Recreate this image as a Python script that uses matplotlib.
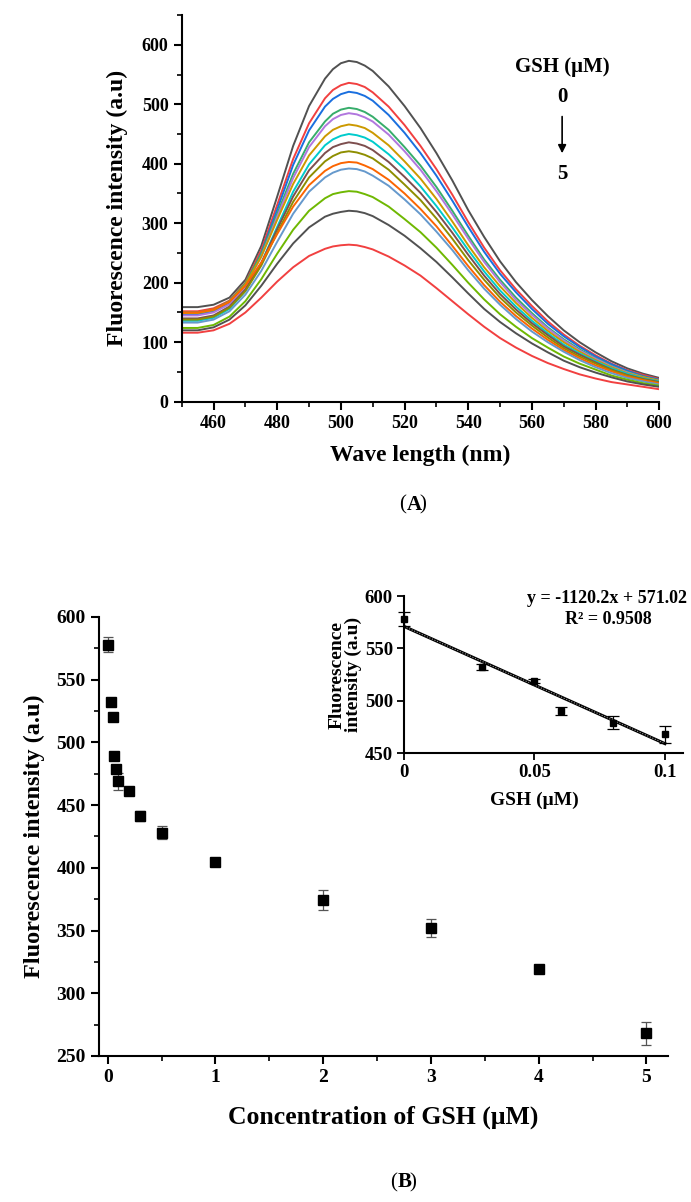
import matplotlib
matplotlib.use("Agg")
import matplotlib.pyplot as plt
from matplotlib.ticker import MultipleLocator

plt.rcParams['font.family'] = ['Liberation Serif', 'DejaVu Serif']
plt.rcParams['font.weight'] = 'bold'
plt.rcParams['axes.linewidth'] = 1.5

# emission spectra (finer sampling around the maximum)
wavelength = [450, 455, 460, 465, 470, 475, 480, 485, 490, 495, 497.5, 500, 502.5,
              505, 507.5, 510, 515, 520, 525, 530, 535, 540, 545, 550, 555, 560,
              565, 570, 575, 580, 585, 590, 595, 600]

spec_0 = [159, 159, 163, 175, 205, 262, 345, 430, 497, 543, 559, 569, 573,
          571, 565, 556, 530, 497, 460, 418, 372, 322, 277, 236, 201, 171, 144, 120, 100, 83, 68, 56, 47, 40]
spec_1 = [152, 152, 157, 170, 200, 255, 331, 408, 468, 510, 524, 532, 536,
          534, 529, 520, 496, 465, 430, 391, 348, 302, 259, 221, 189, 161, 135, 113, 94, 78, 64, 53, 45, 38]
spec_2 = [147, 147, 152, 165, 196, 250, 323, 398, 456, 496, 509, 517, 521,
          519, 514, 506, 482, 452, 418, 380, 338, 294, 252, 215, 184, 156, 131, 110, 92, 76, 63, 52, 43, 37]
spec_3 = [150, 150, 155, 169, 199, 249, 316, 383, 436, 471, 484, 491, 494,
          492, 487, 479, 457, 428, 397, 361, 321, 279, 239, 205, 175, 149, 125, 105, 88, 73, 60, 50, 42, 36]
spec_4 = [145, 145, 150, 164, 194, 244, 311, 376, 428, 463, 475, 482, 485,
          483, 478, 471, 449, 421, 390, 354, 315, 274, 235, 201, 171, 146, 123, 103, 86, 72, 59, 49, 41, 35]
spec_5 = [149, 149, 154, 168, 197, 244, 306, 366, 414, 446, 457, 463, 466,
          464, 460, 452, 431, 404, 375, 341, 303, 263, 226, 194, 166, 141, 119, 100, 84, 70, 58, 48, 41, 35]
spec_6 = [136, 136, 141, 156, 186, 233, 294, 353, 399, 431, 441, 447, 450,
          448, 444, 437, 416, 391, 362, 329, 293, 255, 219, 187, 160, 136, 115, 96, 81, 68, 56, 47, 39, 34]
spec_7 = [140, 140, 145, 160, 189, 233, 290, 345, 389, 418, 428, 433, 436,
          434, 430, 423, 403, 378, 351, 319, 284, 247, 212, 181, 155, 132, 112, 93, 79, 66, 54, 45, 38, 33]
spec_8 = [138, 138, 143, 158, 186, 229, 284, 336, 377, 404, 413, 419, 421,
          419, 415, 409, 390, 365, 339, 308, 274, 238, 205, 175, 150, 128, 108, 90, 76, 64, 53, 44, 37, 32]
spec_9 = [150, 150, 155, 168, 195, 234, 282, 328, 364, 388, 396, 401, 403,
          402, 397, 391, 373, 350, 324, 295, 262, 228, 196, 168, 144, 123, 104, 87, 73, 61, 51, 42, 36, 31]
spec_10 = [133, 133, 138, 152, 180, 220, 269, 316, 353, 377, 385, 390, 392,
           391, 387, 380, 363, 340, 315, 286, 255, 221, 190, 163, 139, 118, 100, 84, 70, 58, 48, 40, 34, 29]
spec_11 = [124, 124, 129, 143, 169, 206, 249, 289, 321, 342, 349, 352, 354,
           353, 349, 344, 328, 307, 285, 259, 230, 200, 172, 147, 126, 107, 91, 76, 64, 54, 44, 37, 31, 27]
spec_12 = [120, 120, 125, 138, 162, 195, 232, 266, 293, 311, 316, 319, 321,
           320, 317, 312, 297, 279, 258, 235, 209, 182, 156, 134, 115, 98, 83, 69, 58, 49, 41, 34, 29, 25]
spec_13 = [116, 116, 120, 131, 150, 175, 202, 226, 245, 257, 261, 263, 264,
           263, 260, 256, 244, 229, 212, 191, 169, 147, 126, 107, 91, 77, 65, 55, 46, 39, 33, 29, 25, 21]

spectra = [spec_0, spec_1, spec_2, spec_3, spec_4, spec_5, spec_6,
           spec_7, spec_8, spec_9, spec_10, spec_11, spec_12, spec_13]
spec_colors = ['#515151', '#F14040', '#1A6FDF', '#37AD6B', '#B177DE', '#CC9900',
               '#00CBCC', '#7D4E4E', '#8E8E00', '#FB6501', '#6699CC', '#6FB802',
               '#515151', '#F14040']

# quenching vs GSH concentration
conc = [0, 0.03, 0.05, 0.06, 0.08, 0.1, 0.2, 0.3, 0.5, 1, 2, 3, 4, 5]
intensity = [578, 532, 520, 489, 479, 469, 461, 441, 428, 405, 374, 352, 319, 268]
intensity_err = [6, 2, 2, 3, 3, 7, 2, 4, 5, 2, 8, 7, 2, 9]

# linear range
lin_conc = [0, 0.03, 0.05, 0.06, 0.08, 0.1]
lin_int = [578, 532, 519, 490, 479, 468]
lin_err = [7, 3, 2, 4, 6, 8]
slope, intercept = -1120.2, 571.02

fig = plt.figure(figsize=(6.91, 12.02), dpi=100)

# ---- (A) spectra ----
ax1 = fig.add_axes([0.263, 0.6658, 0.691, 0.3217])
for s, c in zip(spectra, spec_colors):
    ax1.plot(wavelength, s, color=c, lw=1.4)
ax1.set_xlim(450, 600)
ax1.set_ylim(0, 650)
ax1.set_yticks(range(0, 700, 100))
ax1.set_xticks(range(460, 620, 20))
ax1.xaxis.set_minor_locator(MultipleLocator(10))
ax1.yaxis.set_minor_locator(MultipleLocator(50))
ax1.spines['top'].set_visible(False)
ax1.spines['right'].set_visible(False)
ax1.tick_params(which='major', direction='out', length=6, width=1.5, labelsize=13)
ax1.tick_params(which='minor', direction='out', length=3.5, width=1.2)
ax1.set_xlabel('Wave length (nm)', fontsize=17, fontweight='bold', labelpad=9)
ax1.set_ylabel('Fluorescence intensity (a.u)', fontsize=17, fontweight='bold', labelpad=10)

ax1.text(569.5, 562, 'GSH (μM)', ha='center', va='center', fontsize=15, fontweight='bold')
ax1.text(569.5, 513, '0', ha='center', va='center', fontsize=15, fontweight='bold')
ax1.annotate('', xy=(569.5, 413), xytext=(569.5, 484),
             arrowprops=dict(arrowstyle='-|>', color='black', lw=1.2, mutation_scale=12))
ax1.text(569.5, 382, '5', ha='center', va='center', fontsize=15, fontweight='bold')

fig.text(0.588, 0.58, '(', ha='right', va='center', fontsize=15, fontweight='normal')
fig.text(0.588, 0.58, 'A', ha='left', va='center', fontsize=15, fontweight='bold')
fig.text(0.607, 0.58, ')', ha='left', va='center', fontsize=15, fontweight='normal')

# ---- (B) intensity vs concentration ----
ax2 = fig.add_axes([0.1433, 0.1215, 0.8234, 0.3652])
ax2.errorbar(conc, intensity, yerr=intensity_err, fmt='s', color='black', ms=7.5,
             ecolor='#555555', elinewidth=0.9, capsize=3.5, capthick=0.9)
ax2.set_xlim(-0.08, 5.2)
ax2.set_ylim(250, 600)
ax2.xaxis.set_major_locator(MultipleLocator(1))
ax2.xaxis.set_minor_locator(MultipleLocator(0.5))
ax2.yaxis.set_major_locator(MultipleLocator(50))
ax2.yaxis.set_minor_locator(MultipleLocator(25))
ax2.spines['top'].set_visible(False)
ax2.spines['right'].set_visible(False)
ax2.tick_params(which='major', direction='out', length=6, width=1.5, labelsize=14)
ax2.tick_params(which='minor', direction='out', length=3.5, width=1.2)
ax2.set_xlabel('Concentration of GSH (μM)', fontsize=18.5, fontweight='bold', labelpad=14)
ax2.set_ylabel('Fluorescence intensity (a.u)', fontsize=17.5, fontweight='bold', labelpad=8)

fig.text(0.575, 0.008, '(', ha='right', va='bottom', fontsize=15, fontweight='normal')
fig.text(0.575, 0.008, 'B', ha='left', va='bottom', fontsize=15, fontweight='bold')
fig.text(0.593, 0.008, ')', ha='left', va='bottom', fontsize=15, fontweight='normal')

# ---- inset: linear fit ----
ax3 = fig.add_axes([0.5847, 0.3735, 0.404, 0.1306])
fit_x = [0, 0.1]
fit_y = [intercept + slope * v for v in fit_x]
ax3.plot(fit_x, fit_y, color='black', lw=2.2)
ax3.plot(fit_x, fit_y, color='#9a9a9a', lw=0.8, ls=(0, (1, 1.5)))
ax3.errorbar(lin_conc, lin_int, yerr=lin_err, fmt='s', color='black', ms=4,
             ecolor='black', elinewidth=0.9, capsize=4, capthick=0.9, clip_on=False)
ax3.set_xlim(0, 0.107)
ax3.set_ylim(450, 600)
ax3.set_xticks([0, 0.05, 0.1])
ax3.set_xticklabels(['0', '0.05', '0.1'])
ax3.set_yticks([450, 500, 550, 600])
ax3.spines['top'].set_visible(False)
ax3.spines['right'].set_visible(False)
ax3.tick_params(direction='out', length=5, width=1.3, labelsize=13.5, pad=3)
ax3.set_xlabel('GSH (μM)', fontsize=14, fontweight='bold', labelpad=1)
ax3.xaxis.set_label_coords(0.467, -0.245)
ax3.set_ylabel('Fluorescence\nintensity (a.u)', fontsize=14, fontweight='bold',
               labelpad=2, linespacing=0.95)
ax3.text(0.0778, 598, 'y = -1120.2x + 571.02', ha='center', va='center', fontsize=13, fontweight='bold')
ax3.text(0.0785, 578, 'R² = 0.9508', ha='center', va='center', fontsize=13, fontweight='bold')

fig.savefig('out.png', dpi=100)
